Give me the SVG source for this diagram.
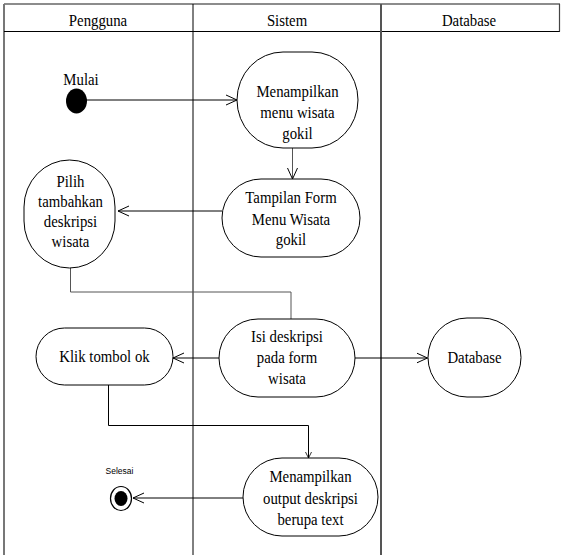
<svg xmlns="http://www.w3.org/2000/svg" width="561" height="555" viewBox="0 0 561 555">
  <style>
    .lbl { font-family: "Liberation Serif", "Times New Roman", "DejaVu Serif", serif; font-size: 17px; fill: #000; text-anchor: middle; }
    .small { font-family: "Liberation Sans", Arial, sans-serif; font-size: 8.5px; fill: #000; text-anchor: middle; }
    .act { fill: #fff; stroke: #000; stroke-width: 1; }
    .flow { fill: none; stroke: #000; stroke-width: 1; }
    .flow-g { fill: none; stroke: #555; stroke-width: 1; }
  </style>
  <defs>
    <marker id="open" markerUnits="userSpaceOnUse" markerWidth="14" markerHeight="14" refX="11" refY="6" orient="auto">
      <path d="M0,1 L11,6 L0,11" fill="none" stroke="#000" stroke-width="1"/>
    </marker>
    <marker id="tiny" markerUnits="userSpaceOnUse" markerWidth="8" markerHeight="8" refX="6" refY="3" orient="auto">
      <path d="M0,0 L6,3 L0,6" fill="none" stroke="#000" stroke-width="0.8"/>
    </marker>
  </defs>

  <rect width="561" height="555" fill="#fff"/>

  <!-- swimlane frame; labels are set in a narrowed serif (matrix x-scale 0.87) -->
  <g id="lanes">
    <line x1="4" y1="4" x2="560" y2="4" stroke="#666" stroke-width="1.5"/>
    <line x1="4" y1="4" x2="4" y2="555" stroke="#777" stroke-width="2"/>
    <line x1="4" y1="31.5" x2="560" y2="31.5" stroke="#000" stroke-width="1"/>
    <line x1="559.5" y1="4" x2="559.5" y2="31.5" stroke="#444" stroke-width="1.2"/>
    <line x1="193" y1="4" x2="193" y2="555" stroke="#000" stroke-width="1"/>
    <line x1="381" y1="4" x2="381" y2="555" stroke="#555" stroke-width="2"/>
    <text class="lbl" transform="matrix(0.87 0 0 1 98 26)">Pengguna</text>
    <text class="lbl" transform="matrix(0.87 0 0 1 287 26)">Sistem</text>
    <text class="lbl" transform="matrix(0.87 0 0 1 469 26)">Database</text>
  </g>

  <!-- connectors -->
  <g id="connectors">
    <line class="flow" x1="86" y1="100" x2="237" y2="100" marker-end="url(#open)"/>
    <line class="flow-g" x1="292.5" y1="148" x2="292.5" y2="179" marker-end="url(#open)"/>
    <line class="flow" x1="222" y1="211" x2="118" y2="211" marker-end="url(#open)"/>
    <polyline class="flow-g" points="70.5,268 70.5,292 291,292 291,319"/>
    <line class="flow" x1="219" y1="358" x2="173" y2="358" marker-end="url(#open)"/>
    <line class="flow" x1="355" y1="358" x2="427.5" y2="358" marker-end="url(#open)"/>
    <polyline class="flow" points="108.5,385 108.5,425.5 308.5,425.5 308.5,458" marker-end="url(#tiny)"/>
    <line class="flow" x1="243" y1="498" x2="133" y2="498" marker-end="url(#open)"/>
  </g>

  <g id="start">
    <text class="lbl" transform="matrix(0.87 0 0 1 81 85)">Mulai</text>
    <ellipse cx="76.5" cy="101" rx="10.5" ry="12.5" fill="#000"/>
  </g>

  <g id="menampilkan-menu">
    <rect class="act" x="237" y="52" width="121" height="96" rx="46" ry="48"/>
    <text class="lbl" transform="matrix(0.87 0 0 1 297.5 97)">Menampilkan</text>
    <text class="lbl" transform="matrix(0.87 0 0 1 297.5 118)">menu wisata</text>
    <text class="lbl" transform="matrix(0.87 0 0 1 297.5 139)">gokil</text>
  </g>

  <g id="tampilan-form">
    <rect class="act" x="222" y="179" width="138" height="78" rx="39" ry="39"/>
    <text class="lbl" transform="matrix(0.87 0 0 1 291 202.5)">Tampilan Form</text>
    <text class="lbl" transform="matrix(0.87 0 0 1 291 224.5)">Menu Wisata</text>
    <text class="lbl" transform="matrix(0.87 0 0 1 291 245)">gokil</text>
  </g>

  <g id="pilih-tambahkan">
    <rect class="act" x="24" y="160" width="91" height="108" rx="45.5" ry="47"/>
    <text class="lbl" transform="matrix(0.87 0 0 1 70.5 187)">Pilih</text>
    <text class="lbl" transform="matrix(0.87 0 0 1 70.5 207)">tambahkan</text>
    <text class="lbl" transform="matrix(0.87 0 0 1 70.5 227)">deskripsi</text>
    <text class="lbl" transform="matrix(0.87 0 0 1 70.5 247)">wisata</text>
  </g>

  <g id="isi-deskripsi">
    <rect class="act" x="219" y="319" width="136" height="78" rx="39" ry="39"/>
    <text class="lbl" transform="matrix(0.87 0 0 1 287 342)">Isi deskripsi</text>
    <text class="lbl" transform="matrix(0.87 0 0 1 287 363)">pada form</text>
    <text class="lbl" transform="matrix(0.87 0 0 1 287 384)">wisata</text>
  </g>

  <g id="klik-tombol">
    <rect class="act" x="36" y="328" width="137" height="57" rx="28.5" ry="28.5"/>
    <text class="lbl" transform="matrix(0.87 0 0 1 104.5 362)">Klik tombol ok</text>
  </g>

  <g id="database">
    <rect class="act" x="428" y="318" width="93" height="79" rx="39" ry="39.5"/>
    <text class="lbl" transform="matrix(0.87 0 0 1 474.5 363)">Database</text>
  </g>

  <g id="menampilkan-output">
    <rect class="act" x="243" y="458" width="135" height="78" rx="39" ry="39"/>
    <text class="lbl" transform="matrix(0.87 0 0 1 310.5 481.5)">Menampilkan</text>
    <text class="lbl" transform="matrix(0.87 0 0 1 310.5 503.5)">output deskripsi</text>
    <text class="lbl" transform="matrix(0.87 0 0 1 310.5 525)">berupa text</text>
  </g>

  <g id="end">
    <text class="small" x="119.5" y="474">Selesai</text>
    <ellipse cx="121" cy="498.5" rx="10.5" ry="12" fill="#fff" stroke="#000" stroke-width="1.2"/>
    <ellipse cx="121" cy="498.5" rx="6.5" ry="7.5" fill="#000"/>
  </g>
</svg>
